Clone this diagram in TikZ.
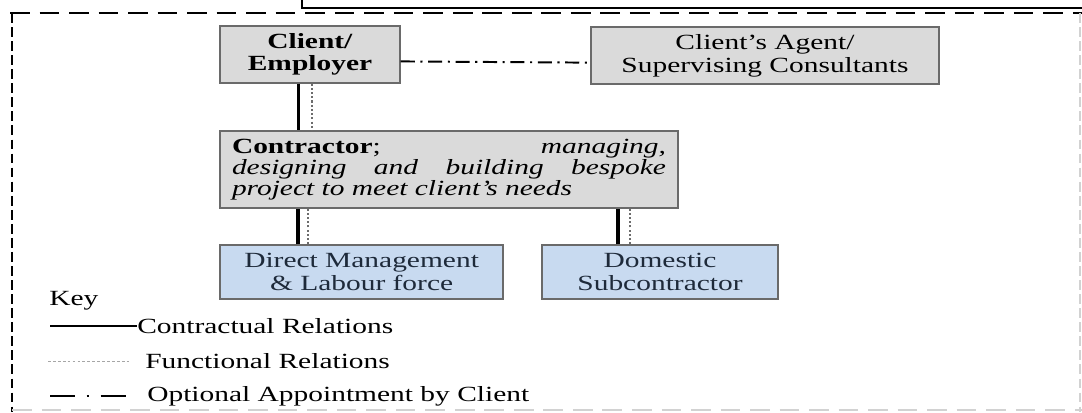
\documentclass[tikz,border=0pt]{standalone}
\usepackage{fontspec}
\setmainfont{Liberation Serif}[FakeStretch=1.36]
\usepackage{xcolor}
\usetikzlibrary{positioning, arrows.meta}

\definecolor{boxgray}{HTML}{DADADA}
\definecolor{boxblue}{HTML}{C8DAF0}
\definecolor{edgegray}{HTML}{6A6A6A}
\definecolor{navytext}{HTML}{1E2A3A}

\begin{document}
\begin{tikzpicture}[
    greybox/.style={draw=edgegray, fill=boxgray, line width=1pt, align=center,
      minimum height=1.425cm, inner sep=2pt, font=\fontsize{15.4}{16}\selectfont},
    bluebox/.style={draw=edgegray, fill=boxblue, line width=1pt, align=center,
      minimum height=1.35cm, inner sep=2pt, text=navytext, font=\fontsize{15.4}{16}\selectfont},
    contract/.style={line width=2.2pt, black},
    functional/.style={line width=1.5pt, gray!85!black, dash pattern=on 1.5pt off 1.5pt},
    optional/.style={line width=1.4pt, black, dash pattern=on 10pt off 4pt on 1.5pt off 4pt},
    keytext/.style={anchor=west, inner sep=0pt, font=\fontsize{15.4}{16}\selectfont}
  ]
  \useasboundingbox (0,0) rectangle (27.05,10.3);

  % frame of the box above, and the dashed outline
  \draw[line width=1pt] (7.55,10.4) -- (7.55,10.1) -- (27.1,10.1);
  \draw[line width=2pt, dash pattern=on 14pt off 7pt] (0.25,9.975) -- (27.05,9.975);
  \draw[line width=2pt, dash pattern=on 7pt off 3pt] (0.3,9.975) -- (0.3,0);
  \draw[line width=1pt, gray!35, dash pattern=on 14pt off 7pt] (0.3,0.05) -- (27.05,0.05);
  \draw[line width=1pt, gray!35, dash pattern=on 7pt off 3pt] (27.0,9.975) -- (27.0,0);

  % boxes
  \node[greybox, minimum width=4.5cm] (client) at (7.75,8.94)
       {\textbf{Client/}\\\textbf{Employer}};
  \node[greybox, minimum width=8.7cm] (agent) at (19.125,8.91)
       {Client’s Agent/\\Supervising Consultants};
  \node[greybox, minimum width=11.45cm, minimum height=1.925cm, text width=10.85cm,
        align=justify, font=\fontsize{15.4}{14.8}\selectfont] (contractor) at (11.225,6.0625)
       {\textbf{Contractor}; \textit{managing,}\linebreak
        \textit{designing and building bespoke}\linebreak
        \textit{project to meet client’s needs}};
  \node[bluebox, minimum width=7.075cm] (direct) at (9.04,3.5)
       {Direct Management\\\& Labour force};
  \node[bluebox, minimum width=5.9cm] (domestic) at (16.5,3.5)
       {Domestic\\Subcontractor};

  % relations
  \draw[optional] ([yshift=-5pt]client.east) -- ([yshift=-5pt]agent.west);
  \draw[contract] ([xshift=-0.28cm]client.south) -- ([xshift=-0.28cm]client.south |- contractor.north);
  \draw[functional] ([xshift=0.04cm]client.south) -- ([xshift=0.04cm]client.south |- contractor.north);
  \draw[contract] ([xshift=-0.3cm]client.south |- direct.north) -- ([xshift=-0.3cm]client.south |- contractor.south);
  \draw[functional] ([xshift=-0.05cm]client.south |- direct.north) -- ([xshift=-0.05cm]client.south |- contractor.south);
  \draw[contract] ([xshift=-1.05cm]domestic.north) -- ([xshift=-1.05cm]domestic.north |- contractor.south);
  \draw[functional] ([xshift=-0.75cm]domestic.north) -- ([xshift=-0.75cm]domestic.north |- contractor.south);

  % key
  \node[keytext] (key) at (1.225,2.775) {Key};
  \node[keytext] (kcon) at (3.425,2.15) {Contractual Relations};
  \node[keytext] (kfun) at (3.625,1.275) {Functional Relations};
  \node[keytext] (kopt) at (3.675,0.4) {Optional Appointment by Client};
  \coordinate (kc) at (1.25,2.15);
  \coordinate (kf) at (1.2,1.275);
  \coordinate (ko) at (1.25,0.4);
  \draw[contract, line width=0.8pt] (kc) -- (kcon.west);
  \draw[functional, line width=0.6pt, gray!70, dash pattern=on 2pt off 1.5pt] (kf) -- ([xshift=-0.4cm]kfun.west);
  \draw[optional, line width=2pt, dash pattern=on 18pt off 8pt on 2pt off 8pt] (ko) -- ([xshift=-0.45cm]kopt.west);
\end{tikzpicture}
\end{document}
